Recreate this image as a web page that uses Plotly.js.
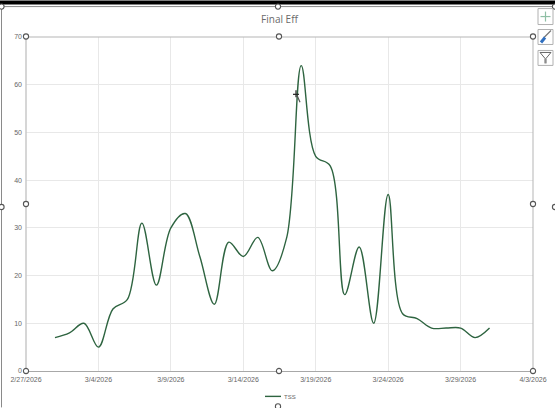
<!DOCTYPE html>
<html><head><meta charset="utf-8">
<script src="https://cdn.plot.ly/plotly-3.0.1.min.js"></script>
<style>html,body{margin:0;padding:0;background:#fff;overflow:hidden}#c{width:555px;height:408px}</style>
</head><body><div id="c"></div>
<script>
const dates = ["2026-03-01","2026-03-02","2026-03-03","2026-03-04","2026-03-05","2026-03-06","2026-03-07","2026-03-08","2026-03-09","2026-03-10","2026-03-11","2026-03-12","2026-03-13","2026-03-14","2026-03-15","2026-03-16","2026-03-17","2026-03-18","2026-03-19","2026-03-20","2026-03-21","2026-03-22","2026-03-23","2026-03-24","2026-03-25","2026-03-26","2026-03-27","2026-03-28","2026-03-29","2026-03-30","2026-03-31"];
const tss = [7,8,10,5,13,15,31,18,30,33,24,14,27,24,28,21,28,64,45,43,16,26,10,37,12,11,9,9,9,7,9];
const seriesName = "TSS";
const chartTitle = "Final Eff";
const xRange = ["2026-02-27","2026-04-03"];
const W=555,H=408,ML=26,MR=22,MT=36.5,MB=36.5;
const PW=W-ML-MR,PH=H-MT-MB;
const px=v=>(v-ML)/PW, py=v=>1-(v-MT)/PH;
const shapes=[];
function rect(x0,y0,x1,y1,line,fill){shapes.push({type:"rect",xref:"paper",yref:"paper",x0:px(x0),x1:px(x1),y0:py(y0),y1:py(y1),line:line||{width:0},fillcolor:fill||"rgba(0,0,0,0)",layer:"above"});}
function seg(x0,y0,x1,y1,color,width){shapes.push({type:"line",xref:"paper",yref:"paper",x0:px(x0),x1:px(x1),y0:py(y0),y1:py(y1),line:{color:color,width:width},layer:"above"});}
function handle(x,y){const r=2.6;shapes.push({type:"circle",xref:"paper",yref:"paper",x0:px(x-r),x1:px(x+r),y0:py(y-r),y1:py(y+r),line:{color:"#555",width:1.1},fillcolor:"#fff",layer:"above"});}
rect(0,0,555,4,null,"#000");
seg(0,6,555,6,"#8a8a8a",1);
seg(1.5,6,1.5,408,"#8a8a8a",1);
seg(26,36.5,533,36.5,"#b5b5b5",1);
seg(533,36.5,533,371.5,"#b5b5b5",1);
seg(26,36.5,26,371.5,"#c8c8c8",1.5);
[[26,36],[279,36],[533,36],[26,204],[533,204],[26,371.5],[279,371.5],[533,371.5],[1.5,6],[278,6],[555,6],[1.5,207],[555,207],[278,407]].forEach(p=>handle(p[0],p[1]));
rect(538,8,553,24,{color:"#b0b0b0",width:1},"#fff");
seg(545.5,11,545.5,21,"#8fbfa5",1.2);seg(540.5,16,550.5,16,"#8fbfa5",1.2);
rect(538,29,553,44,{color:"#b0b0b0",width:1},"#fff");
seg(544,37,551,30,"#777",1.2);seg(541,42,545,37,"#2f6fc0",3);
rect(538,50,553,65,{color:"#b0b0b0",width:1},"#fff");
seg(540,52,551,52,"#666",1);seg(540,52,545,58,"#666",1);seg(551,52,546,58,"#666",1);seg(545,58,545,63,"#666",1);seg(546,58,546,63,"#666",1);
seg(293,94,299,94,"#222",1.2);seg(296,90,296,97,"#222",1.2);seg(297,95,300,102,"#555",1.2);
Plotly.newPlot("c",[{
  x:dates,y:tss,name:seriesName,type:"scatter",mode:"lines",
  line:{color:"#2e6440",width:1.4,shape:"spline",smoothing:1}
}],{
  width:W,height:H,autosize:false,
  margin:{l:ML,r:MR,t:MT,b:MB,pad:0,autoexpand:false},
  paper_bgcolor:"#fff",plot_bgcolor:"#fff",
  showlegend:true,
  legend:{orientation:"h",x:0.5,xref:"paper",xanchor:"center",y:-0.076,yanchor:"middle",font:{family:"Liberation Sans",size:6,color:"#666"},itemwidth:30,bgcolor:"rgba(0,0,0,0)"},
  title:{text:chartTitle,x:0.5,xref:"paper",xanchor:"center",y:1-19/H,yref:"container",yanchor:"middle",font:{family:"Open Sans",size:10,color:"#6a6a6a"}},
  xaxis:{type:"date",range:xRange,tick0:"2026-02-27",dtick:432000000,tickformat:"%-m/%-d/%Y",ticks:"",
    showgrid:true,gridcolor:"#e8e8e8",gridwidth:1,showline:true,linecolor:"#a8a8a8",linewidth:1,zeroline:false,
    tickfont:{family:"Liberation Sans",size:7,color:"#666"},automargin:false,tickangle:0,ticklabelstandoff:2},
  yaxis:{range:[0,70],dtick:10,ticks:"",showgrid:true,gridcolor:"#e8e8e8",gridwidth:1,zeroline:false,showline:false,
    tickfont:{family:"Liberation Sans",size:7,color:"#666"},automargin:false,ticklabelstandoff:3},
  shapes:shapes
},{displayModeBar:false,staticPlot:true}).then(()=>{
  const g=document.querySelector(".legend");
  const line=g.querySelector(".legendlines path");
  if(line) line.setAttribute("d","M14,0h16");
  const t=g.querySelector(".legendtext");
  if(t) t.setAttribute("x",parseFloat(t.getAttribute("x"))-7);
});
</script></body></html>
